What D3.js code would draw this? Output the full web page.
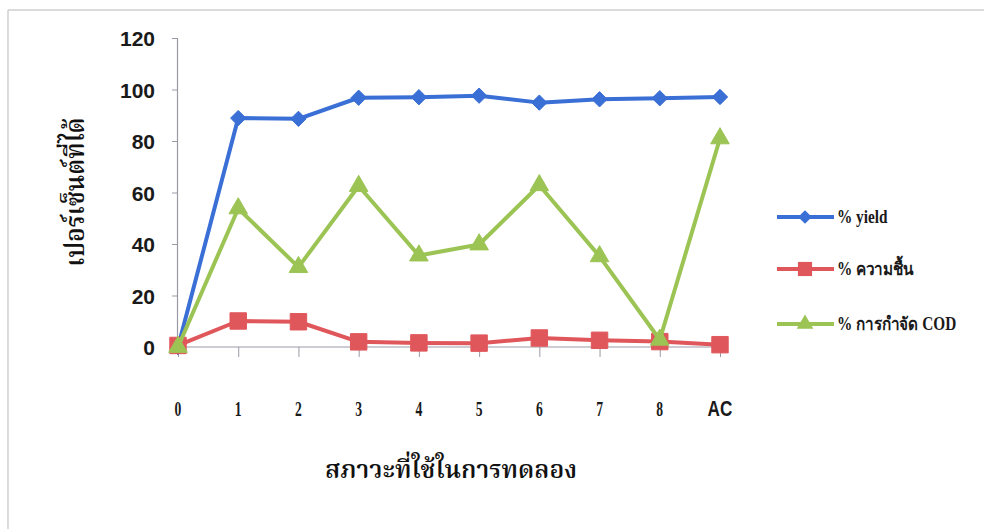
<!DOCTYPE html>
<html>
<head>
<meta charset="utf-8">
<script src="https://cdn.jsdelivr.net/npm/d3@7"></script>
<style>
  html, body { margin: 0; padding: 0; background: #ffffff; }
  svg { display: block; }
</style>
</head>
<body>
<svg id="chart" width="984" height="529"></svg>
<script>
// Conditions tested (x axis)
const categories = ["0", "1", "2", "3", "4", "5", "6", "7", "8", "AC"];
// Percent yield
const yieldValues = [0, 88.9, 88.6, 96.8, 97.0, 97.6, 94.9, 96.2, 96.6, 97.1];
// Percent moisture
const moistureValues = [0.6, 10.1, 9.8, 2.0, 1.6, 1.5, 3.5, 2.6, 2.1, 0.9];
// Percent COD removal
const codValues = [0, 53.8, 31.0, 62.5, 35.5, 39.8, 62.8, 35.2, 2.8, 81.0];
// Y axis ticks
const yTicks = [0, 20, 40, 60, 80, 100, 120];

const seriesNames = ["%  yield", "% ความชื้น", "% การกำจัด COD"];
const seriesColors = ["#3a6fd6", "#e0575b", "#9cc454"];
const seriesShapes = [d3.symbolDiamond2, d3.symbolSquare, d3.symbolTriangle];

const series = [
  { name: seriesNames[0], values: yieldValues, color: seriesColors[0], shape: seriesShapes[0], size: 150 },
  { name: seriesNames[1], values: moistureValues, color: seriesColors[1], shape: seriesShapes[1], size: 270 },
  { name: seriesNames[2], values: codValues, color: seriesColors[2], shape: seriesShapes[2], size: 150 }
];

const thaiFont = "'Noto Serif Thai', 'Noto Sans Thai Looped', 'Norasi', 'Garuda', 'Loma', 'Noto Sans Thai', 'Noto Sans', sans-serif";

const svg = d3.select("#chart");

// Frame edges
svg.append("line").attr("x1", 8).attr("x2", 984).attr("y1", 10).attr("y2", 10)
  .attr("stroke", "#b8b8b8").attr("stroke-width", 1.2);
svg.append("line").attr("x1", 8).attr("x2", 8).attr("y1", 10).attr("y2", 529)
  .attr("stroke", "#c4c4c4").attr("stroke-width", 1.2);

const x = d3.scalePoint().domain(categories).range([178, 720]);
const y = d3.scaleLinear().domain([0, 120]).range([347, 38]);

// Y axis
const yAxis = svg.append("g").attr("transform", "translate(177,0)")
  .call(d3.axisLeft(y).tickValues(yTicks).tickSize(5).tickPadding(17));
yAxis.select(".domain").attr("stroke", "#9a9aa6").attr("stroke-width", 1.2);
yAxis.selectAll(".tick line").attr("stroke", "#9a9aa6");
yAxis.selectAll(".tick text")
  .attr("fill", "#1a1a1a")
  .attr("dy", "0.36em")
  .style("font-family", "'Liberation Sans', Arial, sans-serif")
  .style("font-weight", "bold")
  .style("font-size", "21px");

// X axis line with downward ticks
const xAxis = svg.append("g").attr("transform", "translate(0,347)")
  .call(d3.axisBottom(x).tickSize(10).tickFormat(""));
xAxis.select(".domain").attr("stroke", "#9a9aa6").attr("stroke-width", 1.2)
  .attr("d", "M177,0H722");
xAxis.selectAll(".tick line").attr("stroke", "#9a9aa6");

// X tick labels, set well below the axis
svg.append("g").selectAll("text")
  .data(categories)
  .join("text")
  .attr("transform", d => `translate(${x(d)},416) scale(${d === "AC" ? 0.78 : 0.62},1)`)
  .attr("text-anchor", "middle")
  .attr("fill", "#1a1a1a")
  .style("font-family", d => d === "AC" ? "'Liberation Sans', Arial, sans-serif" : "'Liberation Serif', 'Times New Roman', serif")
  .style("font-weight", "bold")
  .style("font-size", d => d === "AC" ? "22px" : "22px")
  .text(d => d);

// Series lines and markers
const line = d3.line().x((d, i) => x(categories[i])).y(d => y(d));

series.forEach(s => {
  const g = svg.append("g");
  g.append("path")
    .datum(s.values)
    .attr("d", line)
    .attr("fill", "none")
    .attr("stroke", s.color)
    .attr("stroke-width", 4)
    .attr("stroke-linejoin", "round");
  g.selectAll("path.marker")
    .data(s.values)
    .join("path")
    .attr("class", "marker")
    .attr("transform", (d, i) => `translate(${x(categories[i])},${y(d)})`)
    .attr("d", d3.symbol().type(s.shape).size(s.size))
    .attr("fill", s.color)
    .attr("stroke", s.color)
    .attr("stroke-width", 1);
});

// Legend
const legendRows = [217, 269, 324];
const legend = svg.append("g");
series.forEach((s, i) => {
  const row = legend.append("g").attr("transform", `translate(0,${legendRows[i]})`);
  row.append("line").attr("x1", 777).attr("x2", 834).attr("y1", 0).attr("y2", 0)
    .attr("stroke", s.color).attr("stroke-width", 4);
  row.append("path")
    .attr("transform", "translate(805,0)")
    .attr("d", d3.symbol().type(s.shape).size(i === 1 ? 200 : 120))
    .attr("fill", s.color);
  row.append("text")
    .attr("transform", "translate(837,6) scale(0.85,1)")
    .attr("fill", "#1a1a1a")
    .style("font-family", "'Liberation Serif', 'Times New Roman', serif")
    .style("font-weight", "bold")
    .style("font-size", "18px")
    .text(s.name);
});

// Axis titles
svg.append("text")
  .attr("x", 451).attr("y", 478)
  .attr("text-anchor", "middle")
  .attr("fill", "#111")
  .attr("textLength", 252)
  .attr("lengthAdjust", "spacingAndGlyphs")
  .style("font-family", thaiFont)
  .style("font-weight", "600")
  .style("font-size", "25px")
  .text("สภาวะที่ใช้ในการทดลอง");

svg.append("text")
  .attr("transform", "translate(84,192) rotate(-90)")
  .attr("text-anchor", "middle")
  .attr("fill", "#111")
  .attr("textLength", 149)
  .attr("lengthAdjust", "spacingAndGlyphs")
  .style("font-family", thaiFont)
  .style("font-weight", "600")
  .style("font-size", "26px")
  .text("เปอร์เซ็นต์ที่ได้");
</script>
</body>
</html>
